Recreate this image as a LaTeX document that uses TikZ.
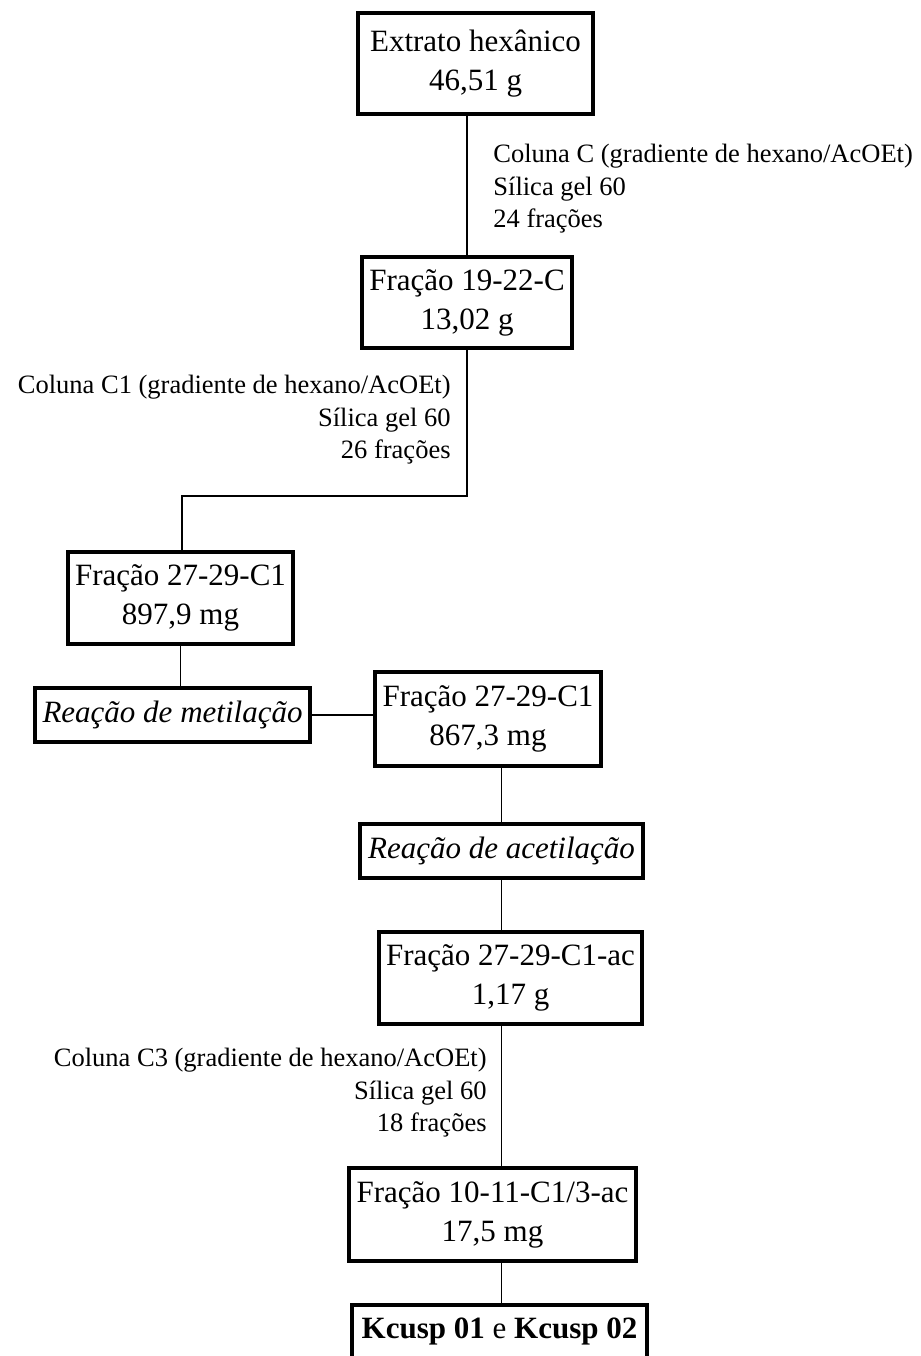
\documentclass[tikz,border=0pt]{standalone}
\usepackage{fontspec}
\setmainfont{Liberation Serif}
\usetikzlibrary{calc}

\begin{document}
\begin{tikzpicture}[x=0.5pt,y=0.5pt,yscale=-1,xscale=1,
		caixa/.style={draw,line width=1.7pt,align=center,inner sep=0pt,font=\fontsize{15.5}{19.5}\selectfont},
		coluna/.style={inner sep=0pt,font=\fontsize{13.25}{16.25}\selectfont},
		liga/.style={line width=0.85pt}]
		\useasboundingbox (0,0) rectangle (921,1356);
		\node [caixa,minimum width=117.5pt,minimum height=50.5pt] (extrato) at (475.5,63.5) {Extrato hexânico\\46,51 g};
		\node [caixa,minimum width=105pt,minimum height=45.5pt] (fr1922) at (467,302.5) {Fração 19-22-C\\13,02 g};
		\node [caixa,minimum width=112.5pt,minimum height=46pt] (fr2729) at (180.5,598) {Fração 27-29-C1\\897,9 mg};
		\node [caixa,minimum width=137.5pt,minimum height=27pt] (metil) at (172.5,715) {\itshape Reação de metilação};
		\node [caixa,minimum width=113pt,minimum height=47pt] (fr2729b) at (488,719) {Fração 27-29-C1\\867,3 mg};
		\node [caixa,minimum width=141.5pt,minimum height=27pt] (acetil) at (501.5,851) {\itshape Reação de acetilação};
		\node [caixa,minimum width=131.5pt,minimum height=46pt] (fr2729ac) at (510.5,978) {Fração 27-29-C1-ac\\1,17 g};
		\node [caixa,minimum width=143.5pt,minimum height=46.5pt] (fr1011) at (492.5,1214.5) {Fração 10-11-C1/3-ac\\17,5 mg};
		\node [caixa,minimum width=147.5pt,minimum height=26.5pt] (kcusp) at (499.5,1331.5) {\textbf{Kcusp 01} e \textbf{Kcusp 02}};
		\coordinate (desvio) at (182,496);
		\draw [liga] (fr1922.north) -- (fr1922.north |- extrato.south);
		\draw [liga] (fr1922.south) |- (desvio) -- (desvio |- fr2729.north);
		\draw [liga] (fr2729.south) -- (fr2729.south |- metil.north);
		\draw [liga] (metil.east) -- (metil.east -| fr2729b.west);
		\draw [liga] (acetil.north) -- (acetil.north |- fr2729b.south);
		\draw [liga] (acetil.south) -- (acetil.south |- fr2729ac.north);
		\draw [liga] (fr2729ac.south -| acetil.south) -- (fr1011.north -| acetil.south);
		\draw [liga] (fr1011.south -| acetil.south) -- (kcusp.north -| acetil.south);
		\node [coluna,anchor=west,align=left] (colC) at (493,189) {Coluna C (gradiente de hexano/AcOEt)\\Sílica gel 60\\24 frações};
		\node [coluna,anchor=east,align=right] (colC1) at (451,420) {Coluna C1 (gradiente de hexano/AcOEt)\\Sílica gel 60\\26 frações};
		\node [coluna,anchor=east,align=right] (colC3) at (487,1093) {Coluna C3 (gradiente de hexano/AcOEt)\\Sílica gel 60\\18 frações};
\end{tikzpicture}
\end{document}
